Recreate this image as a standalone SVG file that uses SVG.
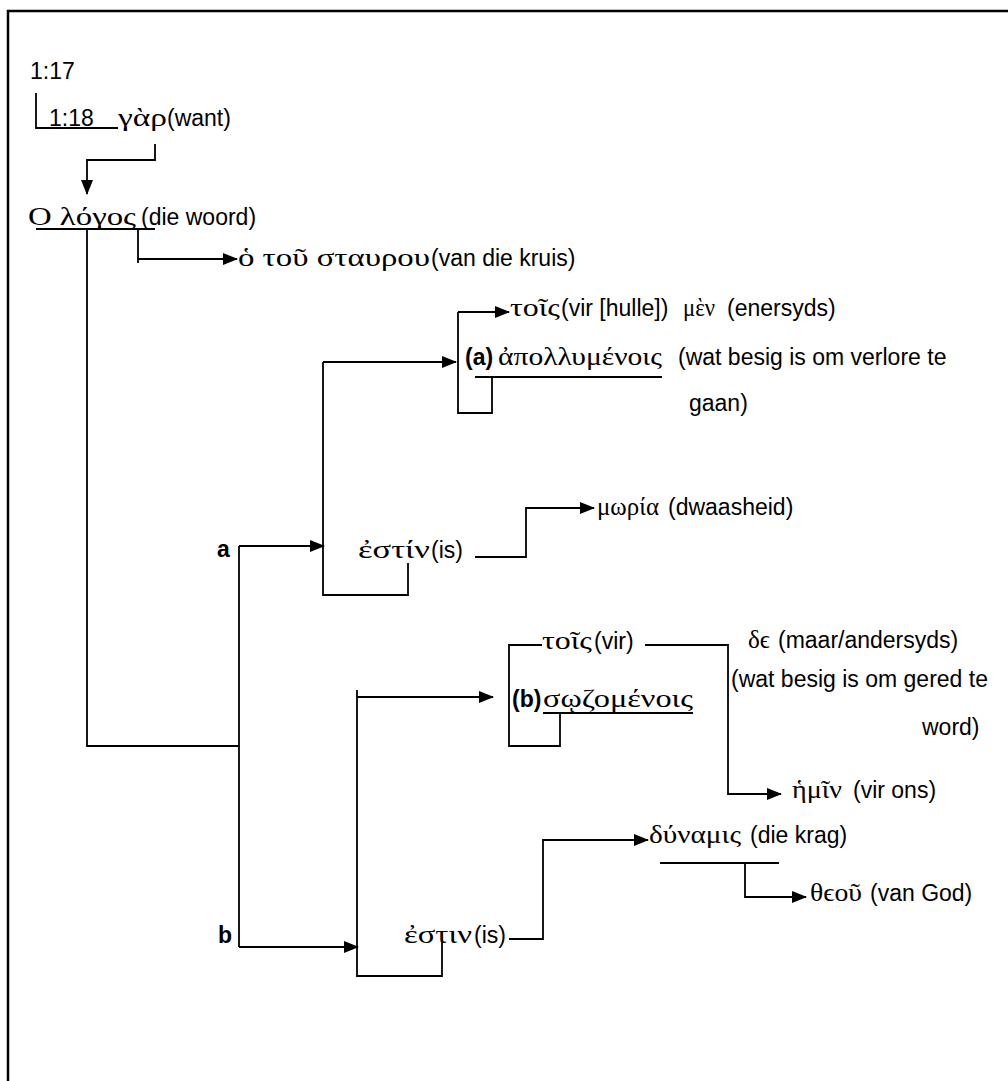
<svg xmlns="http://www.w3.org/2000/svg" width="1008" height="1081" viewBox="0 0 1008 1081">
<defs>
<style>
.s{font-family:"Liberation Sans",Arial,sans-serif;font-size:23px;fill:#000}
.b{font-family:"Liberation Sans",Arial,sans-serif;font-size:23px;font-weight:bold;fill:#000}
.g{font-family:"Liberation Serif","DejaVu Serif",serif;font-size:25px;fill:#000}
.ln{fill:none;stroke:#000;stroke-width:1.8}
.ar{fill:none;stroke:#000;stroke-width:1.8;marker-end:url(#ah)}
</style>
<marker id="ah" markerUnits="userSpaceOnUse" markerWidth="15" markerHeight="12" refX="14" refY="6" orient="auto">
<path d="M0,0 L15,6 L0,12 Z" fill="#000"/>
</marker>
</defs>
<rect width="1008" height="1081" fill="#fff"/>
<path d="M8,1081 V11 H1008" fill="none" stroke="#000" stroke-width="2.5"/>

<g id="connectors">
<path class="ln" d="M36,93 V128 H118"/>
<path class="ar" d="M155,144 V160 H87 V194"/>
<path class="ln" d="M36,229 H155"/>
<path class="ln" d="M87,229 V746 H239"/>
<path class="ln" d="M138,229 V263"/>
<path class="ar" d="M138,259 H237"/>
<path class="ln" d="M239,546 V947"/>
<path class="ar" d="M239,546 H324"/>
<path class="ar" d="M239,947 H358"/>
<path class="ln" d="M323,362 V595 H408 V563"/>
<path class="ar" d="M323,362 H456"/>
<path class="ar" d="M458,312 H509"/>
<path class="ln" d="M458,312 V413 H492 V377"/>
<path class="ln" d="M475,377 H662"/>
<path class="ar" d="M475,557 H526 V508 H594"/>
<path class="ln" d="M357,690 V976 H442 V937"/>
<path class="ar" d="M357,697 H493"/>
<path class="ln" d="M542,645 H509 V746 H560 V713"/>
<path class="ln" d="M543,713 H693"/>
<path class="ar" d="M645,645 H728 V794 H781"/>
<path class="ar" d="M509,939 H543 V840 H648"/>
<path class="ln" d="M660,863 H779"/>
<path class="ar" d="M745,863 V897 H806"/>
</g>

<g id="n-117"><text class="s" x="30" y="79">1:17</text></g>
<g id="n-118"><text class="s" x="49" y="126">1:18</text></g>
<g id="n-gar"><text class="g" x="118" y="126" textLength="49" lengthAdjust="spacingAndGlyphs">γὰρ</text><text class="s" x="167" y="126">(want)</text></g>
<g id="n-logos"><text class="g" x="28" y="225" textLength="108" lengthAdjust="spacingAndGlyphs">Ο λόγος</text><text class="s" x="141" y="225">(die woord)</text></g>
<g id="n-staurou"><text class="g" x="238" y="266" textLength="192" lengthAdjust="spacingAndGlyphs">ὁ τοῦ σταυρου</text><text class="s" x="431" y="266">(van die kruis)</text></g>
<g id="n-tois-a"><text class="g" x="510" y="316" textLength="50" lengthAdjust="spacingAndGlyphs">τοῖς</text><text class="s" x="561" y="316">(vir [hulle])</text><text class="g" x="683" y="316" textLength="32" lengthAdjust="spacingAndGlyphs">μὲν</text><text class="s" x="727" y="316">(enersyds)</text></g>
<g id="n-apoll"><text class="b" x="465" y="365">(a)</text><text class="g" x="498" y="365" textLength="164" lengthAdjust="spacingAndGlyphs">ἀπολλυμένοις</text><text class="s" x="678" y="365">(wat besig is om verlore te</text><text class="s" x="689" y="411">gaan)</text></g>
<g id="n-a"><text class="b" x="217" y="557">a</text></g>
<g id="n-estin-a"><text class="g" x="358" y="558" textLength="72" lengthAdjust="spacingAndGlyphs">ἐστίν</text><text class="s" x="431" y="558">(is)</text></g>
<g id="n-moria"><text class="g" x="597" y="515" textLength="62" lengthAdjust="spacingAndGlyphs">μωρία</text><text class="s" x="668" y="515">(dwaasheid)</text></g>
<g id="n-tois-b"><text class="g" x="542" y="649" textLength="50" lengthAdjust="spacingAndGlyphs">τοῖς</text><text class="s" x="594" y="649">(vir)</text></g>
<g id="n-de"><text class="g" x="748" y="648" textLength="22" lengthAdjust="spacingAndGlyphs">δϵ</text><text class="s" x="778" y="648">(maar/andersyds)</text></g>
<g id="n-sozom"><text class="b" x="512" y="707">(b)</text><text class="g" x="543" y="707" textLength="150" lengthAdjust="spacingAndGlyphs">σῳζομένοις</text></g>
<g id="n-gered"><text class="s" x="731" y="687">(wat besig is om gered te</text><text class="s" x="922" y="735">word)</text></g>
<g id="n-hemin"><text class="g" x="792" y="798" textLength="50" lengthAdjust="spacingAndGlyphs">ἡμῖν</text><text class="s" x="853" y="798">(vir ons)</text></g>
<g id="n-b"><text class="b" x="218" y="943">b</text></g>
<g id="n-estin-b"><text class="g" x="404" y="943" textLength="68" lengthAdjust="spacingAndGlyphs">ἐστιν</text><text class="s" x="474" y="943">(is)</text></g>
<g id="n-dynamis"><text class="g" x="649" y="843" textLength="92" lengthAdjust="spacingAndGlyphs">δύναμις</text><text class="s" x="750" y="843">(die krag)</text></g>
<g id="n-theou"><text class="g" x="810" y="901" textLength="52" lengthAdjust="spacingAndGlyphs">θϵοῦ</text><text class="s" x="870" y="901">(van God)</text></g>
</svg>
